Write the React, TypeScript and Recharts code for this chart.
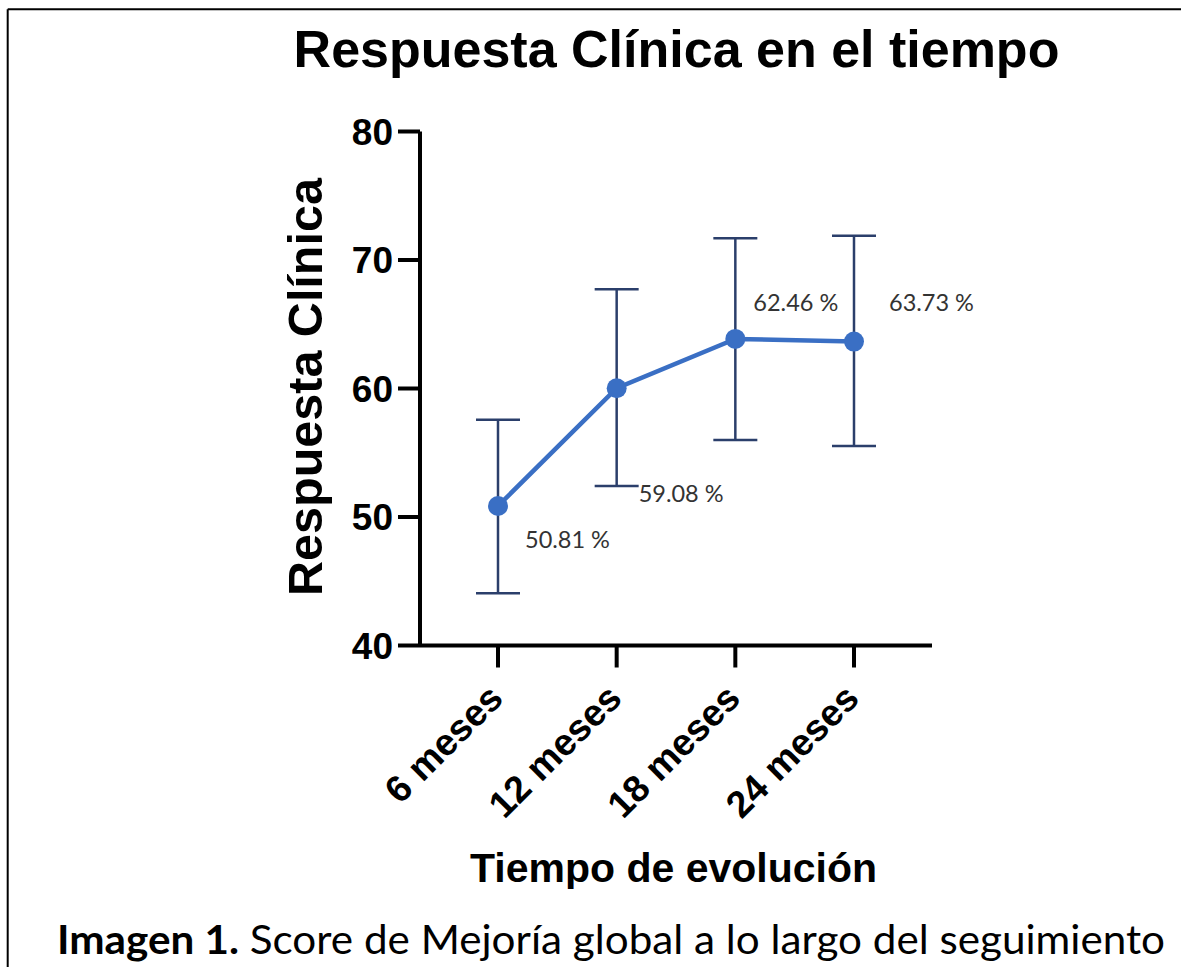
import React from "react";
import { LineChart, Line, XAxis, YAxis, ErrorBar } from "recharts";

const CATEGORIES = ["6 meses", "12 meses", "18 meses", "24 meses"];
const MEANS = [50.86, 60.02, 63.86, 63.65];
const LOWER = [44.07, 52.42, 56.0, 55.53];
const UPPER = [57.56, 67.73, 71.7, 71.88];
const VALUE_LABELS = ["50.81 %", "59.08 %", "62.46 %", "63.73 %"];
const Y_TICKS = [40, 50, 60, 70, 80];

// label placement (layout, not data)
const LABEL_Y = [47.6, 51.2, 66.0, 66.0];
const LABEL_DX = [27, 22, 18, 35];

const TITLE = "Respuesta Clínica en el tiempo";
const Y_TITLE = "Respuesta Clínica";
const X_TITLE = "Tiempo de evolución";
const CAPTION_BOLD = "Imagen 1.";
const CAPTION_REST = " Score de Mejoría global a lo largo del seguimiento";

const data = CATEGORIES.map((c, i) => ({
  cat: c,
  mean: MEANS[i],
  err: [MEANS[i] - LOWER[i], UPPER[i] - MEANS[i]],
  labelY: LABEL_Y[i],
}));

const W = 1181;
const H = 967;
const ARIAL = "'Liberation Sans', Arial, Helvetica, sans-serif";
const CAL = "Lato, 'Open Sans', sans-serif";
const LINE_COLOR = "#3A6FC4";
const ERR_COLOR = "#2B3F6B";

const XTick = (props: any) => {
  const { x, y, payload } = props;
  const ax = x + 7;
  const ay = y + 31;
  return (
    <text
      x={ax}
      y={ay}
      textAnchor="end"
      transform={`rotate(-45, ${ax}, ${ay})`}
      fontFamily={ARIAL}
      fontWeight="bold"
      fontSize={37.5}
      fill="#000"
    >
      {payload.value}
    </text>
  );
};

const ValueLabel = (props: any) => {
  const { x, y, index } = props;
  if (x == null || y == null) return null;
  return (
    <text x={x + LABEL_DX[index]} y={y} fontFamily={CAL} fontSize={23.5} fill="#333">
      {VALUE_LABELS[index]}
    </text>
  );
};

export default function App() {
  return (
    <div style={{ position: "fixed", left: 0, top: 0, width: W, height: H, background: "#fff" }}>
      <LineChart
        width={W}
        height={H}
        data={data}
        margin={{ top: 131.5, right: 249, bottom: 221.5, left: 0 }}
      >
        <XAxis
          dataKey="cat"
          type="category"
          scale="point"
          padding={{ left: 78, right: 78 }}
          height={100}
          tickSize={22}
          axisLine={{ stroke: "#000", strokeWidth: 4 }}
          tickLine={{ stroke: "#000", strokeWidth: 4 }}
          tick={<XTick />}
          interval={0}
        />
        <YAxis
          type="number"
          domain={[40, 80]}
          ticks={Y_TICKS}
          width={420}
          tickSize={22}
          tickMargin={5}
          axisLine={{ stroke: "#000", strokeWidth: 4 }}
          tickLine={{ stroke: "#000", strokeWidth: 4 }}
          tick={{ fontFamily: ARIAL, fontWeight: "bold", fontSize: 37, fill: "#000" }}
          allowDataOverflow
        />
        <Line
          dataKey="labelY"
          stroke="none"
          dot={false}
          activeDot={false}
          isAnimationActive={false}
          label={<ValueLabel />}
          legendType="none"
        />
        <Line
          dataKey="mean"
          stroke={LINE_COLOR}
          strokeWidth={4.5}
          dot={{ r: 10, fill: LINE_COLOR, stroke: "none" }}
          activeDot={false}
          isAnimationActive={false}
        >
          <ErrorBar dataKey="err" direction="y" width={22} strokeWidth={2.5} stroke={ERR_COLOR} />
        </Line>
      </LineChart>
      <svg
        width={W}
        height={H}
        style={{ position: "absolute", left: 0, top: 0, pointerEvents: "none" }}
      >
        <line x1={7.7} y1={9.3} x2={W} y2={9.3} stroke="#000" strokeWidth={2} />
        <line x1={7.7} y1={9.3} x2={7.7} y2={H} stroke="#000" strokeWidth={2} />
        <text x={676.5} y={67} textAnchor="middle" fontFamily={ARIAL} fontWeight="bold" fontSize={52} fill="#000">
          {TITLE}
        </text>
        <text
          x={322}
          y={387}
          textAnchor="middle"
          transform="rotate(-90, 322, 387)"
          fontFamily={ARIAL}
          fontWeight="bold"
          fontSize={48.5}
          fill="#000"
        >
          {Y_TITLE}
        </text>
        <text x={673.5} y={882} textAnchor="middle" fontFamily={ARIAL} fontWeight="bold" fontSize={41} fill="#000">
          {X_TITLE}
        </text>
        <rect x={9} y={889} width={W - 9} height={H - 889} fill="#fff" />
        <text
          x={57}
          y={954}
          fontFamily={CAL}
          fontSize={40}
          fill="#000"
          textLength={1108}
          lengthAdjust="spacingAndGlyphs"
        >
          <tspan fontWeight="bold">{CAPTION_BOLD}</tspan>
          <tspan>{CAPTION_REST}</tspan>
        </text>
      </svg>
    </div>
  );
}
